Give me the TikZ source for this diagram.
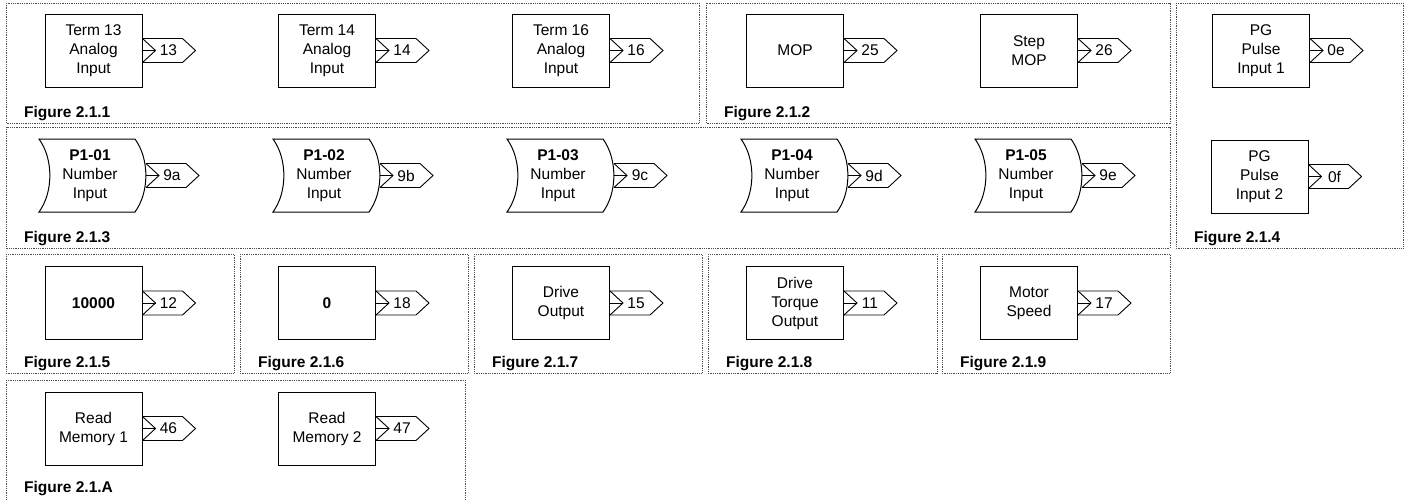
\documentclass[tikz,border=0pt]{standalone}
\usepackage{fontspec}
\setmainfont{Liberation Sans}
\usetikzlibrary{calc}
\tikzset{
  frm/.style={draw=black!70, line width=0.8pt, dash pattern=on 0.9pt off 0.9pt},
  blk/.style={draw, line width=1pt, minimum width=97pt, minimum height=73pt, inner sep=0pt, align=center, font=\fontsize{15.5}{19}\selectfont},
  shp/.style={draw, line width=1pt},
  numtxt/.style={inner sep=0pt, align=center, font=\fontsize{15.5}{19}\selectfont},
  tagln/.style={draw, line width=0.9pt},
  tagtxt/.style={inner sep=0pt, font=\fontsize{15.5}{19}\selectfont},
  figlbl/.style={anchor=base west, inner sep=0pt, font=\fontsize{15.5}{19}\selectfont\bfseries},
}
\newcommand\outtag[3]{%
  \draw[tagln] ([yshift=12pt]#1) -- ([xshift=40pt,yshift=12pt]#1) -- ([xshift=53pt]#1) -- ([xshift=40pt,yshift=-12pt]#1) -- ([yshift=-12pt]#1);
  \draw[tagln] ([yshift=12pt]#1) -- ([xshift=13pt]#1) -- ([yshift=-12pt]#1);
  \draw[tagln] (#1) -- ([xshift=13pt]#1);
  \node[tagtxt] (#2) at ([xshift=26pt]#1) {#3};
}
% #1 name, #2 left x, #3 id text, #4 tag text
\newcommand\numblock[4]{%
  \draw[shp] (#2,139) .. controls (#2+14.5,159) and (#2+14.5,192) .. (#2,212)
    -- (#2+96,212) .. controls (#2+110.5,192) and (#2+110.5,159) .. (#2+96,139) -- cycle;
  \node[numtxt] (#1) at (#2+51,175.5) {\textbf{#3}\\Number\\Input};
  \coordinate (#1e) at (#2+107,175.5);
  \outtag{#1e}{#1t}{#4}
}
\begin{document}
\begin{tikzpicture}[x=1pt,y=-1pt]
\useasboundingbox (0,0) rectangle (1408,499);
% frames
\draw[frm] (6,3) rectangle (699,123);
\draw[frm] (706,3) rectangle (1170,123);
\draw[frm] (6,127) rectangle (1170,248);
\draw[frm] (1176,3) rectangle (1403,248);
\draw[frm] (6,254) rectangle (234,373);
\draw[frm] (240,254) rectangle (468,373);
\draw[frm] (474,254) rectangle (702,373);
\draw[frm] (708,254) rectangle (937,373);
\draw[frm] (942,254) rectangle (1170,373);
\draw[frm] (6,380) rectangle (465,501);
% labels
\node[figlbl] (f1) at (24,117) {Figure 2.1.1};
\node[figlbl] (f2) at (724,117) {Figure 2.1.2};
\node[figlbl] (f3) at (24,242) {Figure 2.1.3};
\node[figlbl] (f4) at (1194,242) {Figure 2.1.4};
\node[figlbl] (f5) at (24,367) {Figure 2.1.5};
\node[figlbl] (f6) at (258,367) {Figure 2.1.6};
\node[figlbl] (f7) at (492,367) {Figure 2.1.7};
\node[figlbl] (f8) at (726,367) {Figure 2.1.8};
\node[figlbl] (f9) at (960,367) {Figure 2.1.9};
\node[figlbl] (fa) at (24,492) {Figure 2.1.A};
% row 1
\node[blk] (b13) at (93.5,50.5) {Term 13\\Analog\\Input};
\outtag{b13.east}{t13}{13}
\node[blk] (b14) at (327,50.5) {Term 14\\Analog\\Input};
\outtag{b14.east}{t14}{14}
\node[blk] (b16) at (561,50.5) {Term 16\\Analog\\Input};
\outtag{b16.east}{t16}{16}
\node[blk] (mop) at (795,50.5) {MOP};
\outtag{mop.east}{t25}{25}
\node[blk] (smop) at (1029,50.5) {Step\\MOP};
\outtag{smop.east}{t26}{26}
\node[blk] (pg1) at (1261,50.5) {PG\\Pulse\\Input 1};
\outtag{pg1.east}{t0e}{0e}
% row 2
\numblock{n1}{39}{P1-01}{9a}
\numblock{n2}{273}{P1-02}{9b}
\numblock{n3}{507}{P1-03}{9c}
\numblock{n4}{741}{P1-04}{9d}
\numblock{n5}{975}{P1-05}{9e}
\node[blk] (pg2) at (1259.5,176.5) {PG\\Pulse\\Input 2};
\outtag{pg2.east}{t0f}{0f}
% row 3
\node[blk] (c1) at (93.5,303) {\textbf{10000}};
\outtag{c1.east}{t12}{12}
\node[blk] (c0) at (327,303) {\textbf{0}};
\outtag{c0.east}{t18}{18}
\node[blk] (dout) at (561,303) {Drive\\Output};
\outtag{dout.east}{t15}{15}
\node[blk] (dtq) at (795,303) {Drive\\Torque\\Output};
\outtag{dtq.east}{t11}{11}
\node[blk] (msp) at (1029,303) {Motor\\Speed};
\outtag{msp.east}{t17}{17}
% row 4
\node[blk] (rm1) at (93.5,428.5) {Read\\Memory 1};
\outtag{rm1.east}{t46}{46}
\node[blk] (rm2) at (327,428.5) {Read\\Memory 2};
\outtag{rm2.east}{t47}{47}
\end{tikzpicture}
\end{document}
